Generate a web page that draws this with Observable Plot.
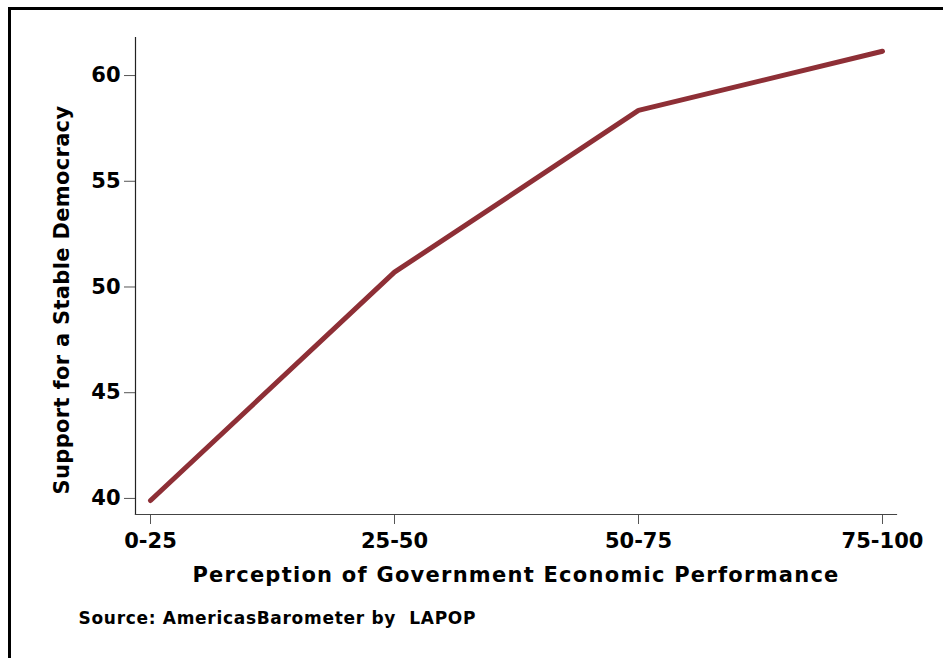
<!DOCTYPE html>
<html>
<head>
<meta charset="utf-8">
<script src="https://cdn.jsdelivr.net/npm/d3@7"></script>
<script src="https://cdn.jsdelivr.net/npm/@observablehq/plot@0.6"></script>
<style>
  html, body { margin: 0; padding: 0; background: #fff; }
  #wrap { position: relative; width: 943px; height: 658px; overflow: hidden; }
  #border { position: absolute; left: 8px; top: 7px; width: 960px; height: 700px;
            border-left: 3px solid #000; border-top: 3px solid #000; box-sizing: border-box; }
  #chart { position: absolute; left: 0; top: 0; }
</style>
</head>
<body>
<div id="wrap"><div id="border"></div><div id="chart"></div></div>
<script>
const categories = ["0-25", "25-50", "50-75", "75-100"];
const support = [39.9, 50.7, 58.35, 61.15];
const yTicks = [40, 45, 50, 55, 60];
const xTitle = "Perception of Government Economic Performance";
const yTitle = "Support for a Stable Democracy";
const source = "Source: AmericasBarometer by  LAPOP";

const data = categories.map((c, i) => ({cat: c, value: support[i]}));
const font = "'DejaVu Sans', sans-serif";

const chart = Plot.plot({
  width: 943,
  height: 658,
  marginLeft: 135,
  marginRight: 47,
  marginTop: 37,
  marginBottom: 144,
  style: {fontFamily: font, fontWeight: "bold", background: "transparent", color: "#000"},
  x: {type: "point", domain: categories, padding: 0.057},
  y: {domain: [39.24, 61.8]},
  marks: [
    Plot.axisY({ticks: yTicks, tickSize: 11, tickPadding: 4, fontSize: 21, stroke: "#555", label: null, fill: "#000"}),
    Plot.axisX({tickSize: 10, tickPadding: 9, fontSize: 21, stroke: "#555", label: null, fill: "#000"}),
    Plot.frame({anchor: "left", stroke: "#222", strokeWidth: 1.2}),
    Plot.frame({anchor: "bottom", stroke: "#444", strokeWidth: 1.2}),
    Plot.line(data, {x: "cat", y: "value", stroke: "#8E2F36", strokeWidth: 5, strokeLinecap: "round", strokeLinejoin: "round"}),
    Plot.text([xTitle], {frameAnchor: "bottom", dy: 61, fontSize: 21, fontWeight: "bold", fill: "#000", lineAnchor: "middle"}),
    Plot.text([yTitle], {frameAnchor: "left", dx: -73, dy: 24, rotate: -90, textAnchor: "middle", fontSize: 21, fontWeight: "bold", fill: "#000", lineAnchor: "middle"}),
    Plot.text([source], {frameAnchor: "bottom-left", dx: -57, dy: 104, textAnchor: "start", fontSize: 17, fontWeight: "bold", fill: "#000", lineAnchor: "middle"})
  ]
});
d3.select(chart).selectAll("text").each(function() {
  const t = this.textContent;
  if (t === xTitle) this.setAttribute("letter-spacing", "1.25");
  if (t === yTitle) this.setAttribute("letter-spacing", "0.32");
  if (t === source) this.setAttribute("letter-spacing", "0.7");
});
document.getElementById("chart").appendChild(chart);
</script>
</body>
</html>
